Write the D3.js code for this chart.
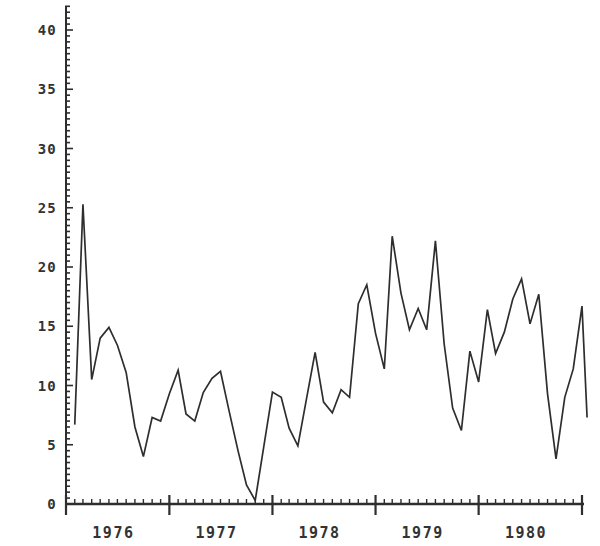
<!DOCTYPE html>
<html>
<head>
<meta charset="utf-8">
<script src="https://cdn.jsdelivr.net/npm/d3@7"></script>
<style>
  html, body { margin: 0; padding: 0; background: #fff; }
  svg { display: block; }
  text { font-family: "DejaVu Sans Mono", monospace; font-weight: bold; fill: #333; }
</style>
</head>
<body>
<svg id="chart" width="600" height="546"></svg>
<script>
// ---- data ----
const firstMonth = "1976-02-01";        // first monthly observation
const lastPointDate = "1981-01-19";     // final (partial) observation
const values = [
  6.7, 25.3, 10.5, 14.0, 14.9, 13.4, 11.1, 6.5, 4.0, 7.3, 7.0, 9.3,
  11.3, 7.6, 7.0, 9.4, 10.6, 11.2, 7.8, 4.5, 1.6, 0.3, 4.8, 9.45,
  9.0, 6.4, 4.9, 8.8, 12.8, 8.6, 7.7, 9.65, 9.0, 16.9, 18.5, 14.4,
  11.4, 22.6, 17.8, 14.7, 16.5, 14.7, 22.2, 13.5, 8.1, 6.2, 12.9, 10.3,
  16.4, 12.7, 14.5, 17.3, 19.0, 15.2, 17.7, 9.3, 3.8, 9.0, 11.4, 16.7,
  7.3
];
const yearLabels = ["1976", "1977", "1978", "1979", "1980"];
const yTickValues = [0, 5, 10, 15, 20, 25, 30, 35, 40];
const xDomain = ["1976-01-01", "1981-01-01"];
const yDomain = [0, 40];
const yAxisTop = 42;

// ---- build ----
const parse = d3.timeParse("%Y-%m-%d");
const start = parse(firstMonth);
const data = values.map((v, i) => ({
  date: i < values.length - 1 ? d3.timeMonth.offset(start, i) : parse(lastPointDate),
  value: v
}));

const svg = d3.select("#chart");
const x = d3.scaleTime().domain(xDomain.map(parse)).range([66, 582]);
const y = d3.scaleLinear().domain(yDomain).range([504, 30]);
const ink = "#2e2e2e";

// Y axis line
svg.append("line")
  .attr("x1", x.range()[0]).attr("x2", x.range()[0])
  .attr("y1", y(0)).attr("y2", y(yAxisTop))
  .attr("stroke", ink).attr("stroke-width", 2);

// Y minor ticks every 0.5
const yMinor = d3.range(0.5, yAxisTop + 0.01, 0.5);
svg.append("g").selectAll("line").data(yMinor).join("line")
  .attr("x1", x.range()[0] - 1)
  .attr("x2", d => x.range()[0] + (d % 5 === 0 ? 7 : 4))
  .attr("y1", d => y(d)).attr("y2", d => y(d))
  .attr("stroke", ink).attr("stroke-width", 1.6);

// Y labels
svg.append("g").selectAll("text").data(yTickValues).join("text")
  .attr("x", 57).attr("y", d => y(d))
  .attr("dy", "0.36em")
  .attr("text-anchor", "end")
  .attr("font-size", 14)
  .attr("letter-spacing", 1.2)
  .text(d => d);

// X axis line
svg.append("line")
  .attr("x1", x.range()[0]).attr("x2", x.range()[1] + 2)
  .attr("y1", y(0)).attr("y2", y(0))
  .attr("stroke", ink).attr("stroke-width", 2.4);

// X minor (monthly) ticks
const months = d3.timeMonth.range(x.domain()[0], d3.timeDay.offset(x.domain()[1], 1));
svg.append("g").selectAll("line").data(months).join("line")
  .attr("x1", d => x(d)).attr("x2", d => x(d))
  .attr("y1", d => d.getMonth() === 0 ? y(0) + 11 : y(0))
  .attr("y2", d => d.getMonth() === 0 ? y(0) - 9 : y(0) - 5)
  .attr("stroke", ink)
  .attr("stroke-width", d => d.getMonth() === 0 ? 2.2 : 1.4);

// X labels (year names)
svg.append("g").selectAll("text").data(yearLabels).join("text")
  .attr("x", d => x(parse(d + "-07-01")) - 4)
  .attr("y", 538)
  .attr("text-anchor", "middle")
  .attr("font-size", 15)
  .attr("letter-spacing", 1.5)
  .text(d => d);

// Series line
svg.append("path").datum(data)
  .attr("fill", "none")
  .attr("stroke", ink)
  .attr("stroke-width", 1.7)
  .attr("stroke-linejoin", "miter")
  .attr("d", d3.line().x(d => x(d.date)).y(d => y(d.value)));
</script>
</body>
</html>
